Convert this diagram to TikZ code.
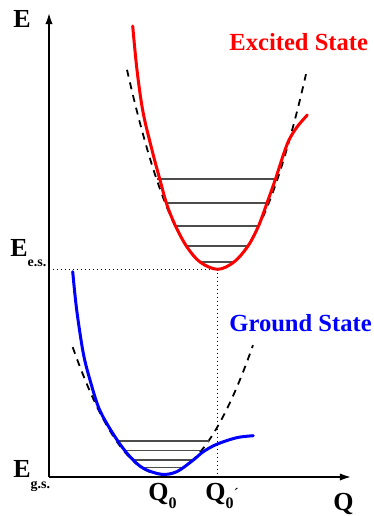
\documentclass[tikz,border=0pt]{standalone}
\usepackage{fontspec}
\setmainfont{Liberation Serif}
\usepackage{tikz}
\usetikzlibrary{arrows.meta}

\begin{document}
\begin{tikzpicture}[
    x=0.5pt, y=-0.5pt,
    axis/.style={line width=1.3pt, -{Latex[length=6pt, width=3.6pt]}},
    harm/.style={line width=0.9pt, dash pattern=on 3.5pt off 3pt},
    level/.style={line width=0.6pt, black!70},
    guide/.style={line width=0.5pt, dash pattern=on 0.5pt off 1.5pt},
    pes/.style={line width=1.5pt, line cap=round},
    lbl/.style={font=\fontsize{13}{15}\selectfont\bfseries, inner sep=0pt, anchor=base west},
    state/.style={font=\fontsize{12.3}{14}\selectfont\bfseries, inner sep=0pt, anchor=base west}
]
\useasboundingbox (0,0) rectangle (374,516);

% Reference points
\coordinate (origin) at (49,477);
\coordinate (etop) at (49,12);
\coordinate (qend) at (352,477);
\coordinate (esmin) at (217.7,269.3);
\coordinate (esaxis) at (49,269.3);
\coordinate (qaxis) at (217.7,476);

% Harmonic approximations
\draw[harm] plot[domain=127:306, samples=60] (\x, {269 - 0.0246*(\x-217)^2});
\draw[harm] plot[domain=72.7:253, samples=60] (\x, {474.5 - 0.0158*(\x-162.5)^2});

% Vibrational levels
\foreach \y in {179, 203, 226, 246, 262} {
    \pgfmathsetmacro{\dx}{sqrt((269-\y)/0.0246)}
    \draw[level] ({217-\dx}, \y) -- ({217+\dx}, \y);
}
\foreach \y in {441, 450.7, 460, 467.7} {
    \pgfmathsetmacro{\dx}{sqrt((474.5-\y)/0.0158)}
    \draw[level] ({162.5-\dx}, \y) -- ({162.5+\dx}, \y);
}

% Potential curves
\draw[pes, red] plot[smooth, tension=0.55] coordinates {
    (132.7,26) (137,70) (143,112) (152,150) (160,180) (167,205) (176,227)
    (187,247) (200,262) (217.7,269.3) (234,262) (248,246) (258.5,226)
    (267,203) (275.5,179) (283.3,155) (289,140) (297,127) (307.3,115)};
\draw[pes, blue] plot[smooth, tension=0.55] coordinates {
    (72.7,271.7) (76.7,310) (83.3,353.3) (90,380) (98.3,406.7) (106.7,423.3)
    (118.3,441.7) (130,456.7) (143.3,468.3) (161.7,474.3) (176.7,471.7)
    (193.3,460) (203.3,451.7) (216.7,444.3) (236.7,437.7) (253.3,435.7)};

% Guides
\draw[guide] (esaxis) -- (esmin) -- (qaxis);

% Axes
\draw[axis] (origin) -- (etop);
\draw[axis] (origin) -- (qend);

% Labels
\node[lbl] (elbl) at (13,27) {E};
\node[lbl] (eeslbl) at (10,256) {E\raisebox{-5pt}{\fontsize{7}{8}\selectfont e.s.}};
\node[lbl] (egslbl) at (13,477) {E\raisebox{-5.5pt}{\fontsize{7}{8}\selectfont g.s.}};
\node[lbl] (q0lbl) at (148,500) {Q\raisebox{-4pt}{\fontsize{8}{9}\selectfont 0}};
\node[lbl] (q0plbl) at (205,500) {Q\raisebox{-4pt}{\fontsize{8}{9}\selectfont 0}\raisebox{0.5pt}{\fontsize{8}{9}\selectfont\mdseries ´}};
\node[lbl] (qlbl) at (333,510) {Q};
\node[state, red] (excited) at (229,50) {Excited State};
\node[state, blue] (ground) at (229,331) {Ground State};

\end{tikzpicture}
\end{document}
